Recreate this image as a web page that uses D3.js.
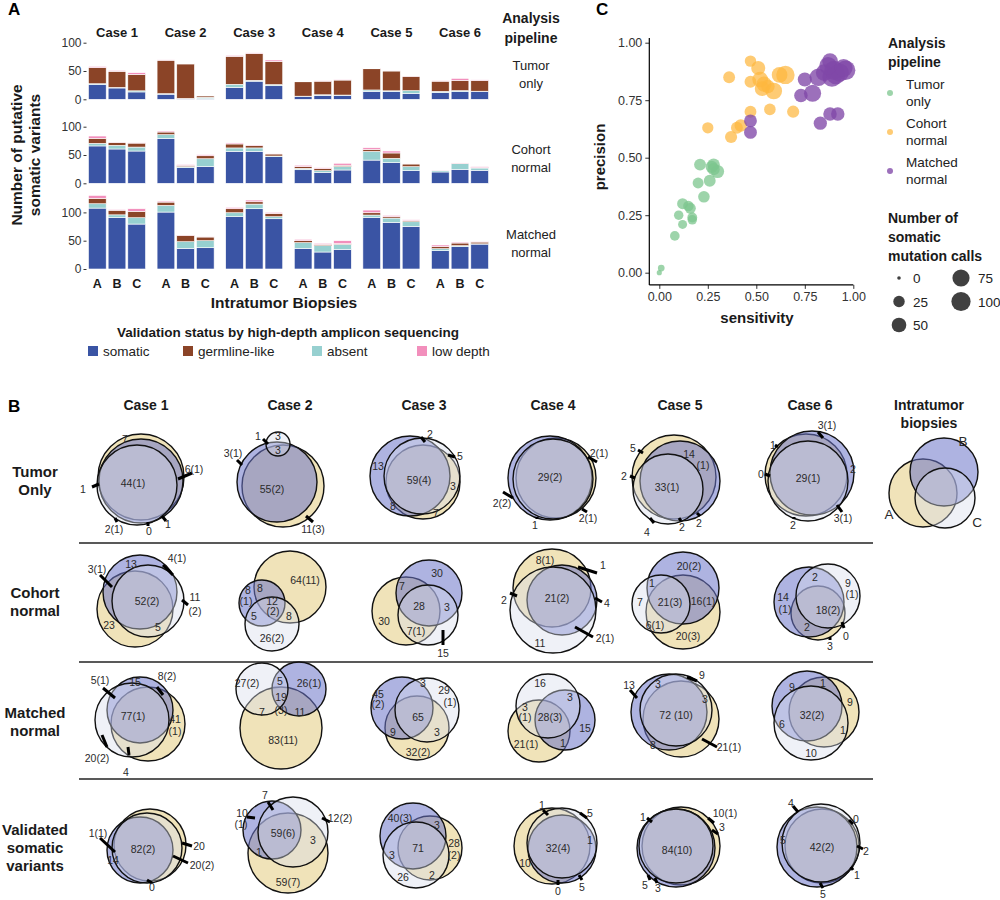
<!DOCTYPE html>
<html><head><meta charset="utf-8">
<script src="https://cdn.jsdelivr.net/npm/d3@7"></script>
<style>
body{margin:0;background:#fff}
svg text{font-family:"Liberation Sans",Arial,Helvetica,sans-serif}
</style>
</head><body>
<svg id="chart" width="1000" height="900"></svg>
<script>
// ---------------- DATA: panel A ----------------
const cases = ["Case 1","Case 2","Case 3","Case 4","Case 5","Case 6"];
const biopsies = ["A","B","C"];
const pipelines = ["Tumor\nonly","Cohort\nnormal","Matched\nnormal"];
const statuses = ["somatic","germline-like","absent","low depth"];
const stackOrder = ["somatic","absent","germline-like","low depth"];
const yTickValues = [0,50,100];
// 18 values per pipeline: Case1 A,B,C, Case2 A,B,C, ...
const somaticCounts = [
  [26,20,13, 9,1,1, 21,32,24, 5,7,6.5, 14,14,10.6, 12,13.5,14],
  [66,60.6,57, 79.4,27.6,29.4, 56.5,56.5,47, 24,19.4,23.5, 41,36.5,22.4, 20,24.7,23],
  [107.6,91,79.4, 100.6,36.5,37.6, 92.4,106.5,88.8, 36.5,30,34.7, 91.2,82.4,75.3, 32.4,39.4,44]
];
const absentCounts = [
  [1.5,1,2, 1,0.5,2.5, 5.5,1.5,2, 0.5,1,1, 2.5,1,4.7, 2,1.8,0.3],
  [4.6,6.5,7, 6.5,1.8,14, 6,6,1.2, 2.5,3,6, 15.3,7.6,7, 2.4,10,4],
  [7.7,4.7,11.2, 11.8,11.7,12.4, 7,8.2,3.6, 10,11.2,8.8, 4.1,7.6,8.2, 3.5,1.8,0.5]
];
const germlineCounts = [
  [28.5,28.5,29, 59,61,2.5, 49.5,47.5,41, 25.5,24,26.5, 37.5,35,25.3, 18,18.2,19],
  [8.8,4.7,7, 4.7,2.4,5.3, 7,4,3.6, 3,3.5,2.4, 3.5,9.5,4.7, 0,0.5,0.6],
  [9.4,8.1,11.2, 5.8,11.2,6.5, 7.1,4.1,5.8, 3.5,2.3,1.2, 4.1,2.4,1.8, 3.5,4.7,3.1]
];
const lowDepthCounts = [
  [2,1.5,3, 0.6,0.5,0.5, 1.5,1,2.4, 0.5,0.7,0.5, 0.7,1,0.5, 1,3.5,1],
  [4.1,0.6,0.8, 1.8,1.2,1.8, 1.8,1,1.2, 2.4,1.6,3.5, 3,3.5,0.7, 0.5,0.7,1.8],
  [5.3,1.2,4.7, 1.8,0.6,1.1, 2.3,3,1.8, 2.4,1.8,5.3, 4.7,2.3,1.7, 3,1.7,1.2]
];

// ---------------- DATA: panel C ----------------
const pipelineNames = ["Tumor only","Cohort normal","Matched normal"];
const sensTumorOnly = [0.00,0.01,0.08,0.10,0.12,0.12,0.15,0.16,0.17,0.17,0.20,0.23,0.26,0.21,0.27,0.28,0.30,0.28];
const precTumorOnly = [0.00,0.02,0.16,0.25,0.21,0.30,0.29,0.28,0.24,0.23,0.39,0.33,0.40,0.47,0.46,0.47,0.44,0.45];
const callsTumorOnly = [1,4,15,14,12,22,20,22,16,14,22,26,28,28,30,32,38,30];
const sensCohort = [0.36,0.47,0.51,0.47,0.52,0.54,0.56,0.59,0.62,0.65,0.57,0.47,0.69,0.25,0.37,0.40,0.42,0.53];
const precCohort = [0.85,0.92,0.89,0.83,0.84,0.82,0.81,0.79,0.86,0.86,0.71,0.70,0.70,0.63,0.59,0.63,0.64,0.80];
const callsCohort = [28,25,45,28,60,55,40,70,60,90,26,28,30,24,30,28,32,50];
const sensMatched = [0.47,0.47,0.73,0.79,0.75,0.82,0.83,0.88,0.92,0.88,0.90,0.89,0.96,0.93,0.85,0.91,0.87,0.95];
const precMatched = [0.66,0.61,0.77,0.78,0.84,0.85,0.65,0.69,0.69,0.92,0.88,0.85,0.88,0.87,0.87,0.86,0.90,0.89];
const callsMatched = [35,35,40,75,45,80,38,40,40,60,100,100,105,90,70,95,80,85];
const sizeLegendValues = [0,25,50,75,100];
const axisTicksC = [0,0.25,0.5,0.75,1];

// ---------------- DATA: panel B (Venn diagrams) ----------------
const vennRowNames = ["Tumor\nOnly","Cohort\nnormal","Matched\nnormal","Validated\nsomatic\nvariants"];
// circles per diagram, order A, B, C : [dx, dy, r] in diagram units
const vennCircles = [
 [[[-5,-3,43],[-5,1,42],[-9,5,40]],
  [[-7,6,41],[-13,2,40],[-12,-36,12]],
  [[-1,2,37],[-14,-4,40],[-2,-4,38]],
  [[3,-2,40],[-3,-2,42],[0,-1,40]],
  [[-6,-3,42],[0,1,40],[-12,9,35]],
  [[-4,-5,41],[2,-7,42],[-2,1,40]]],
 [[[-11,9,38],[-6,-8,37],[2,1,36]],
  [[0,-13,36],[-28,3,23],[-18,24,27]],
  [[-18,11,34],[5,-7,33],[4,15,30]],
  [[-1,-12,39],[9,0,35],[0,10,43]],
  [[3,12,37],[3,-12,36],[-19,4,29]],
  [[8,13,27],[-1,2,35],[18,-4,32]]],
 [[[2,9,37],[-6,-5,33],[-14,5,37]],
  [[-9,13,41],[9,-26,27],[-28,-26,26]],
  [[-7,13,32],[-22,-7,31],[3,-5,32]],
  [[-14,16,31],[12,5,30],[-5,-9,32]],
  [[1,4,38],[-11,-3,38],[-4,-5,36]],
  [[14,-3,35],[-3,-9,35],[1,8,37]]],
 [[[4,7,36],[-6,12,33],[1,10,35]],
  [[-2,15,40],[-18,-8,29],[3,-6,35]],
  [[6,10,32],[-11,-2,33],[-8,17,33]],
  [[-1,8,38],[9,11,34],[9,5,35]],
  [[1,8,39],[-4,10,39],[-4,8,37]],
  [[12,8,37],[7,9,40],[11,5,39]]]
];
const vennLabels = [
 [[["44(1)",-13,3],["7",-21,-41],["1",-63,9],["6(1)",48,-11],["2(1)",-32,49],["0",3,51],["1",22,44]],
  [["3",-12,-44],["3",-12,-30],["1",-32,-44],["3(1)",-57,-27],["55(2)",-18,9],["11(3)",23,49]],
  [["13",-46,-14],["59(4)",-5,0],["2",6,-46],["5",36,-24],["3",29,6],["8",-31,26],["7",12,33]],
  [["29(2)",-3,-3],["2(1)",46,-27],["2(2)",-51,23],["1",-18,45],["2(1)",35,38]],
  [["5",-47,-32],["14",9,-26],["(1)",23,-15],["2",-56,-4],["33(1)",-13,7],["4",-33,52],["2",2,47],["2",19,43]],
  [["3(1)",17,-55],["1",-37,-35],["0",-49,-6],["29(1)",-2,-2],["2",43,-11],["2",-17,45],["3(1)",33,38]]],
 [[["3(1)",-49,-31],["13",-15,-36],["4(1)",31,-42],["52(2)",1,1],["11",49,-3],["(2)",49,11],["23",-37,25],["5",12,27]],
  [["64(11)",15,-20],["8",-42,-10],["(1)",-44,1],["8",-30,-12],["12",-18,1],["(2)",-17,11],["5",-36,16],["8",-1,16],["26(2)",-18,38]],
  [["30",13,-27],["7",-22,-14],["28",-5,6],["3",23,7],["30",-40,21],["7(1)",-8,31],["15",19,53]],
  [["8(1)",-8,-40],["1",50,-35],["2",-49,0],["21(2)",4,-2],["4",54,3],["2(1)",52,38],["11",-13,43]],
  [["20(2)",9,-34],["1",-28,-17],["7",-40,2],["21(3)",-10,2],["16(1)",23,1],["6(1)",-25,25],["20(3)",8,36]],
  [["2",5,-23],["9",38,-17],["(1)",42,-6],["14",-27,-3],["(1)",-25,9],["18(2)",18,10],["2",-3,27],["3",20,46],["0",36,36]]],
 [[["5(1)",-46,-35],["15",-11,-33],["8(2)",21,-39],["77(1)",-13,1],["41",29,4],["(1)",29,16],["20(2)",-49,43],["4",-20,57]],
  [["27(2)",-43,-32],["5",-10,-34],["26(1)",19,-32],["19",-9,-18],["(3)",-9,-5],["7",-28,-3],["11",10,-3],["83(11)",-7,25]],
  [["45",-46,-21],["(2)",-46,-11],["3",-1,-32],["29",20,-25],["(1)",26,-13],["65",-6,2],["9",-31,17],["3",13,17],["32(2)",-6,37]],
  [["16",-13,-32],["3",17,-18],["3",-28,-8],["(1)",-28,2],["28(3)",-3,2],["15",32,13],["21(1)",-27,29],["1",10,28]],
  [["13",-51,-30],["9",22,-40],["3",-22,-31],["3",25,-16],["72 (10)",-4,0],["8",-27,30],["21(1)",49,32]],
  [["9",-18,-28],["1",13,-32],["9",40,-13],["6",-28,9],["32(2)",2,0],["1",33,15],["10",1,38]]],
 [[["1(1)",-48,-5],["14",-33,22],["82(2)",-3,11],["20",53,8],["20(2)",56,27],["0",6,49]],
  [["7",-25,-43],["10",-48,-25],["(1)",-49,-14],["12(2)",50,-20],["59(6)",-7,-5],["3",23,2],["1",-31,14],["59(7)",-2,44]],
  [["40(3)",-24,-20],["3",13,-13],["71",-6,10],["28",30,5],["(2)",30,17],["3",-32,17],["26",-21,39],["2",8,37]],
  [["1",-11,-33],["5",37,-25],["32(4)",5,10],["1",37,2],["10",-28,25],["0",5,53],["5",29,49]],
  [["1",-37,-21],["10(1)",45,-25],["3",42,-11],["84(10)",-3,12],["5",-35,47],["3",-22,50]],
  [["4",-19,-35],["0",46,-19],["5",-27,2],["42(2)",12,9],["2",56,13],["1",47,37],["5",13,56]]]
];
// leader marks [x1,y1,x2,y2] in diagram units
const vennMarks = [
 [[[-54,7,-47,4],[32,-1,46,-7],[-31,38,-29,42],[2,42,2,46],[16,36,20,41]],
  [[-27,-41,-22,-36],[-53,-20,-48,-15],[16,36,23,42]],
  [[-3,-43,1,-38],[24,-25,31,-23]],
  [[35,-23,44,-18],[-50,12,-40,18],[-16,37,-16,39],[29,29,34,32]],
  [[-42,-30,-37,-27],[-50,-4,-45,-2],[-30,38,-26,43],[-1,38,1,41],[17,33,20,36]],
  [[8,-48,13,-42],[-35,-35,-32,-33],[-45,-6,-40,-4],[27,25,32,32],[-16,37,-16,39]]],
 [[[-46,-25,-34,-13],[17,-35,27,-25],[36,0,42,5]],
  [],
  [[19,30,19,45]],
  [[25,-33,44,-27],[-43,-7,-36,-4],[42,-2,49,2],[22,27,40,37]],
  [],
  [[32,22,34,28],[20,37,20,40]]],
 [[[-43,-27,-31,-17],[11,-28,17,-20],[-44,20,-39,32],[-18,32,-17,40]],
  [],
  [],
  [],
  [[-50,-25,-43,-17],[7,-38,17,-34],[22,24,37,32]],
  []],
 [[[-46,0,-31,14],[36,5,46,8],[27,18,42,25],[1,42,6,45]],
  [[-22,-36,-17,-28],[-43,-21,-35,-20],[32,-20,40,-16]],
  [],
  [[-10,-28,-5,-23],[27,-25,34,-20],[5,42,5,47],[26,37,29,42]],
  [[-33,-20,-28,-16],[28,-20,34,-15],[32,-8,38,-4],[-32,37,-30,42],[-25,40,-23,45]],
  [[-17,-32,-12,-26],[39,-18,43,-14],[47,8,53,11],[41,29,43,32],[10,45,13,50]]]
];
const keyCircles = [[-6,13,34],[15,-8,34],[16,18,30]];
const keyLabels = [["A",-40,34],["B",34,-39],["C",48,42]];

// ---------------- DRAW ----------------
const svg = d3.select("#chart");
svg.append("rect").attr("width",1000).attr("height",900).attr("fill","#fff");
const ink = "#1a1a1a";
function multiline(g, lines, x, y, dy, attrs) {
  const t = g.append("text").attr("x", x).attr("y", y);
  Object.entries(attrs).forEach(([k,v]) => t.attr(k,v));
  lines.forEach((s,i) => t.append("tspan").attr("x", x).attr("dy", i ? dy : 0).text(s));
  return t;
}

// ===== Panel A =====
const statusColor = d3.scaleOrdinal().domain(statuses).range(["#3A54A4","#8B4427","#97D0D0","#F28FBC"]);
const rowZero = [99.3, 183.3, 269];
const unit100 = 56.6;
const panelX0 = 87.5, panelStep = 68.6, panelW = 59;
const seriesByStatus = {"somatic":somaticCounts,"absent":absentCounts,"germline-like":germlineCounts,"low depth":lowDepthCounts};

svg.append("text").attr("x",8).attr("y",15).attr("font-size",17).attr("font-weight","bold").text("A");

cases.forEach((c,ci) => {
  svg.append("text").attr("x", panelX0 + ci*panelStep + panelW/2).attr("y",37)
    .attr("text-anchor","middle").attr("font-size",13).attr("font-weight","bold").attr("fill",ink).text(c);
});
multiline(svg, ["Analysis","pipeline"], 531, 23, 20, {"text-anchor":"middle","font-size":14,"font-weight":"bold","fill":ink});

pipelines.forEach((p, ri) => {
  const y = d3.scaleLinear().domain([0,100]).range([rowZero[ri], rowZero[ri]-unit100]);
  const ax = svg.append("g").attr("transform",`translate(${panelX0-1},0)`)
    .call(d3.axisLeft(y).tickValues(yTickValues).tickSize(3).tickPadding(2));
  ax.select(".domain").remove();
  ax.selectAll(".tick line").attr("stroke","#333");
  ax.selectAll(".tick text").attr("font-size",12).attr("fill","#333")
    .style("font-family",'"Liberation Sans",Arial,sans-serif');
  const labelY = [70, 154, 239][ri];
  multiline(svg, p.split("\n"), 531, labelY, 18, {"text-anchor":"middle","font-size":13,"fill":"#222"});

  cases.forEach((c, ci) => {
    const x = d3.scaleBand().domain(biopsies)
      .range([panelX0 + ci*panelStep, panelX0 + ci*panelStep + panelW])
      .paddingInner(0.1).paddingOuter(0.05);
    const rows = biopsies.map((b,bi) => {
      const o = {b};
      stackOrder.forEach(k => o[k] = seriesByStatus[k][ri][ci*3+bi]);
      return o;
    });
    const stacked = d3.stack().keys(stackOrder)(rows);
    svg.append("g").selectAll("g").data(stacked).join("g")
      .attr("fill", d => statusColor(d.key))
      .selectAll("rect").data(d => d).join("rect")
      .attr("x", d => x(d.data.b)).attr("width", x.bandwidth())
      .attr("y", d => y(d[1])).attr("height", d => Math.max(0, y(d[0]) - y(d[1])))
      .attr("stroke","#fff").attr("stroke-width",0.6);
    if (ri === 2) {
      biopsies.forEach(b => svg.append("text").attr("x", x(b)+x.bandwidth()/2).attr("y",288)
        .attr("text-anchor","middle").attr("font-size",12.5).attr("font-weight","bold").attr("fill",ink).text(b));
    }
  });
});
multiline(svg, ["Number of putative","somatic variants"], 0, 0, 18, {"text-anchor":"middle","font-size":15.5,"font-weight":"bold","fill":ink,
  "transform":"translate(22,155) rotate(-90)"});
svg.append("text").attr("x",284).attr("y",308).attr("text-anchor","middle").attr("font-size",15.5)
  .attr("font-weight","bold").attr("fill",ink).text("Intratumor Biopsies");
svg.append("text").attr("x",288).attr("y",337).attr("text-anchor","middle").attr("font-size",13.5)
  .attr("font-weight","bold").attr("fill",ink).text("Validation status by high-depth amplicon sequencing");
const legendX = [88, 183, 312, 417];
statuses.forEach((s,i) => {
  svg.append("rect").attr("x",legendX[i]).attr("y",346).attr("width",10).attr("height",10).attr("fill",statusColor(s));
  svg.append("text").attr("x",legendX[i]+15).attr("y",356).attr("font-size",13.5).attr("fill","#222").text(s);
});

// ===== Panel C =====
svg.append("text").attr("x",596).attr("y",15).attr("font-size",17).attr("font-weight","bold").text("C");
const xC = d3.scaleLinear().domain([0,1]).range([659.3, 853.3]);
const yC = d3.scaleLinear().domain([0,1]).range([272.7, 42.7]);
const rC = d3.scaleSqrt().domain([0,110]).range([1.8,10]);
const pipeColor = d3.scaleOrdinal().domain(pipelineNames).range(["#7CC68E","#FDB73E","#8048A8"]);
const pipeOpacity = {"Tumor only":0.75,"Cohort normal":0.72,"Matched normal":0.78};
const axL = svg.append("g").attr("transform",`translate(${xC(-0.0515)},0)`)
  .call(d3.axisLeft(yC).tickValues(axisTicksC).tickFormat(d3.format(".2f")).tickSize(4).tickPadding(3));
axL.select(".domain").remove();
svg.append("line").attr("x1",xC(-0.0515)).attr("x2",xC(-0.0515)).attr("y1",yC(-0.053)).attr("y2",yC(1.02)).attr("stroke","#000").attr("stroke-width",1.2);
const axB = svg.append("g").attr("transform",`translate(0,${yC(-0.053)})`)
  .call(d3.axisBottom(xC).tickValues(axisTicksC).tickFormat(d3.format(".2f")).tickSize(4).tickPadding(3));
axB.select(".domain").remove();
svg.append("line").attr("x1",xC(-0.0515)).attr("x2",xC(1.0)).attr("y1",yC(-0.053)).attr("y2",yC(-0.053)).attr("stroke","#000").attr("stroke-width",1.2);
[axL,axB].forEach(a => {
  a.selectAll(".tick line").attr("stroke","#333");
  a.selectAll(".tick text").attr("font-size",12.5).attr("fill","#333").style("font-family",'"Liberation Sans",Arial,sans-serif');
});
svg.append("text").attr("x",757).attr("y",323).attr("text-anchor","middle").attr("font-size",15)
  .attr("font-weight","bold").attr("fill",ink).text("sensitivity");
svg.append("text").attr("transform","translate(605,157) rotate(-90)").attr("text-anchor","middle").attr("font-size",15)
  .attr("font-weight","bold").attr("fill",ink).text("precision");

const scatterSets = [
  [pipelineNames[0], sensTumorOnly, precTumorOnly, callsTumorOnly],
  [pipelineNames[1], sensCohort, precCohort, callsCohort],
  [pipelineNames[2], sensMatched, precMatched, callsMatched]
];
scatterSets.forEach(([name, s, p, n]) => {
  const pts = s.map((v,i) => ({s:v, p:p[i], n:n[i]}));
  svg.append("g").selectAll("circle").data(pts).join("circle")
    .attr("cx", d => xC(d.s)).attr("cy", d => yC(d.p)).attr("r", d => rC(d.n))
    .attr("fill", pipeColor(name)).attr("fill-opacity", pipeOpacity[name]);
});
multiline(svg, ["Analysis","pipeline"], 888, 48, 19, {"font-size":14,"font-weight":"bold","fill":ink});
pipelineNames.forEach((name,i) => {
  const cy = 93 + i*39;
  svg.append("circle").attr("cx",890).attr("cy",cy).attr("r",3).attr("fill",pipeColor(name)).attr("fill-opacity",pipeOpacity[name]);
  const w = name.split(" ");
  multiline(svg, [w[0], w[1]], 906, cy-4, 17, {"font-size":13.5,"fill":"#222"});
});
multiline(svg, ["Number of","somatic","mutation calls"], 888, 223, 19, {"font-size":14,"font-weight":"bold","fill":ink});
sizeLegendValues.forEach((v,i) => {
  const col = i < 3 ? 0 : 1, row = i < 3 ? i : i-3;
  const cx = col ? 961 : 899, cy = 278 + row*23.5;
  svg.append("circle").attr("cx",cx).attr("cy",cy).attr("r",rC(v)).attr("fill","#2b2b2b").attr("fill-opacity",0.9);
  svg.append("text").attr("x",cx + (col ? 17 : 14)).attr("y",cy+5).attr("font-size",13.5).attr("fill","#222").text(v);
});

// ===== Panel B =====
svg.append("text").attr("x",8).attr("y",412).attr("font-size",17).attr("font-weight","bold").text("B");
const colX = [146,290,424,553,680,810];
const rowY = [480,600,715,838];
const keyX = 929;
const vu = d3.scaleLinear().domain([0,1]).range([0,1]); // diagram units -> px
const circleFill = ["#E3CC7F","#6B74C8","#D8DCEA"];
const circleOpacity = [0.55,0.55,0.4];
cases.forEach((c,ci) => svg.append("text").attr("x",colX[ci]).attr("y",410).attr("text-anchor","middle")
  .attr("font-size",14).attr("font-weight","bold").attr("fill",ink).text(c));
multiline(svg, ["Intratumor","biopsies"], keyX, 410, 18, {"text-anchor":"middle","font-size":14,"font-weight":"bold","fill":ink});
const rowLabelY = [472, 593, 713, 830];
vennRowNames.forEach((n,ri) => multiline(svg, n.split("\n"), 35, rowLabelY[ri]+5, 18,
  {"text-anchor":"middle","font-size":15,"font-weight":"bold","fill":ink}));
[543, 662, 779].forEach(yy => svg.append("line").attr("x1",79).attr("x2",873).attr("y1",yy).attr("y2",yy)
  .attr("stroke","#222").attr("stroke-width",1.6));

function drawVenn(cx, cy, circles, labels, marks, fs) {
  const g = svg.append("g").attr("transform",`translate(${cx},${cy})`);
  circles.forEach((c,k) => g.append("circle").attr("cx",vu(c[0])).attr("cy",vu(c[1])).attr("r",vu(c[2]))
    .attr("fill",circleFill[k]).attr("fill-opacity",circleOpacity[k]).attr("stroke","#111").attr("stroke-width",1.4));
  marks.forEach(m => g.append("line").attr("x1",vu(m[0])).attr("y1",vu(m[1])).attr("x2",vu(m[2])).attr("y2",vu(m[3]))
    .attr("stroke","#000").attr("stroke-width",3));
  labels.forEach(l => g.append("text").attr("x",vu(l[1])).attr("y",vu(l[2])).attr("text-anchor","middle")
    .attr("dominant-baseline","central").attr("font-size",fs).attr("fill","#2a2a2a").text(l[0]));
}
vennCircles.forEach((row,ri) => row.forEach((circ,ci) =>
  drawVenn(colX[ci], rowY[ri], circ, vennLabels[ri][ci], vennMarks[ri][ci], 10.5)));
drawVenn(keyX, rowY[0], keyCircles, keyLabels, [], 13.5);
</script>
</body></html>
